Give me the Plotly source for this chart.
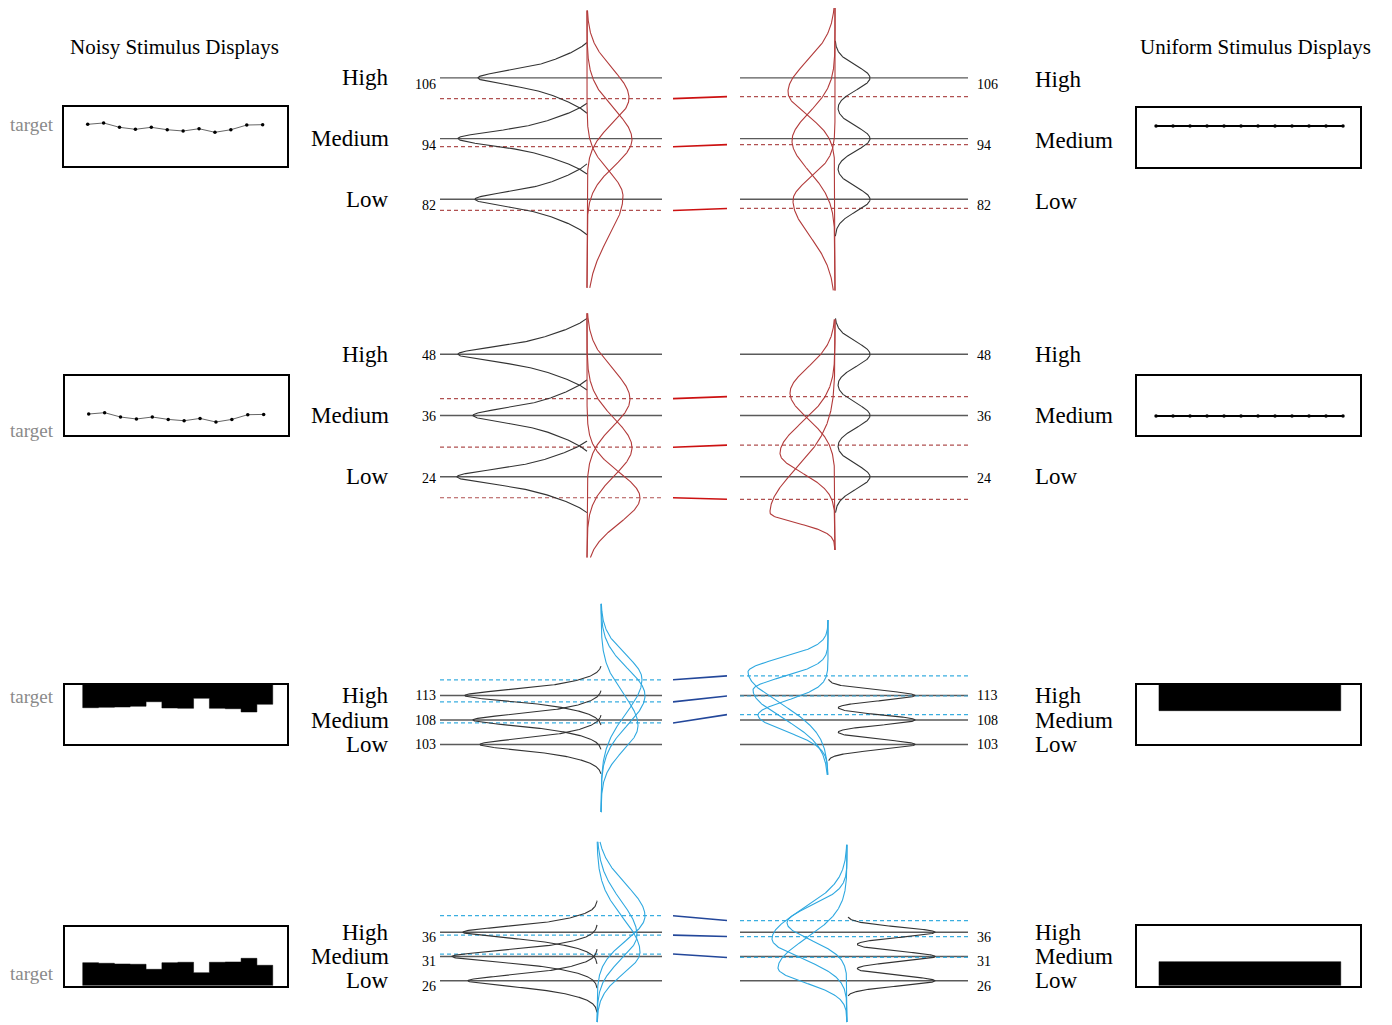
import numpy as np
import plotly.graph_objects as go

W, H = 1392, 1025
OFF = 8  # page body margin compensation
FONT = "Liberation Serif, Times New Roman, serif"

# ---------------- data ----------------
level_names = ["High", "Medium", "Low"]
row_levels = [[106, 94, 82], [48, 36, 24], [113, 108, 103], [36, 31, 26]]

# mean responses (dashed lines) for noisy (left) and uniform (right) displays
noisy_means = [[101.9, 92.4, 79.8], [39.3, 29.8, 19.9], [116.2, 111.7, 107.4], [39.4, 35.4, 31.5]]
uniform_means = [[102.3, 92.8, 80.2], [39.7, 30.2, 19.6], [117.0, 112.9, 109.1], [38.4, 35.1, 30.8]]

# gray stimulus distributions
noisy_stim_peak = [[109, 129, 112], [129, 114, 130], [136, 128, 121], [134, 145, 129]]
noisy_stim_narrow_sd = [1.2, 1.2, 0.9, 0.9]
noisy_stim_wide_sd = [3.5, 3.5, 2.0, 2.0]
noisy_stim_span = [7.0, 7.0, 6.0, 6.5]
uniform_stim_peak = [35, 35, 87, 88]
uniform_stim_sd = [2.4, 2.4, 1.05, 1.05]
uniform_stim_span = [7.3, 7.0, 3.3, 3.1]

# response distributions: (mode, sd above, sd below, peak height)
noisy_resp = [
    [(102.0, 5.8, 5.0, 42), (93.8, 6.0, 5.2, 45), (82.6, 5.0, 8.0, 36)],
    [(39.2, 5.8, 5.3, 43), (29.7, 5.7, 5.5, 45), (19.9, 5.0, 5.0, 53)],
    [(116.3, 5.0, 7.0, 41), (113.0, 5.5, 6.0, 44), (106.8, 6.5, 5.0, 37)],
    [(39.3, 6.5, 5.0, 48), (35.4, 7.0, 5.0, 40), (31.9, 7.0, 4.5, 43)],
]
uniform_resp = [
    [(103.2, 6.0, 4.5, 47), (93.6, 5.5, 6.0, 43), (81.8, 4.3, 7.0, 42)],
    [(40.4, 5.0, 5.0, 45), (28.6, 6.0, 3.8, 55), (17.0, 8.5, 2.0, 65)],
    [(117.8, 2.8, 6.3, 80), (114.1, 2.7, 5.7, 75), (109.0, 2.9, 3.3, 70)],
    [(37.9, 3.5, 3.5, 60), (34.6, 6.0, 4.0, 75), (28.6, 6.0, 3.0, 69)],
]
noisy_resp_range = [(64.5, 119.3), (8.2, 56.0), (89.2, 131.7), (17.5, 54.6)]
uniform_resp_range = [(64.0, 119.8), (9.7, 54.8), (96.8, 128.4), (17.5, 54.0)]

# stimulus displays (box units 0..100, 12 elements)
noisy_line_1 = [71.0, 73.3, 65.9, 62.5, 65.9, 61.8, 59.6, 63.5, 57.4, 61.8, 69.8, 70.4]
noisy_line_2 = [35.6, 37.8, 30.5, 27.1, 30.5, 26.4, 24.2, 28.1, 22.0, 26.4, 34.4, 34.9]
uniform_line_1 = [69.5] * 12
uniform_line_2 = [32.2] * 12
noisy_bar_3_bottom = [61.7, 62.4, 62.9, 64.1, 71.8, 61.2, 60.7, 77.6, 60.7, 60.0, 54.5, 67.5]
noisy_bar_4_top = [39.0, 38.0, 36.8, 36.3, 27.8, 39.0, 39.7, 22.0, 39.7, 40.2, 46.4, 34.6]
uniform_bar_3_bottom = [56.7] * 12
uniform_bar_4_top = [40.2] * 12
element_index = list(range(12))

# ---------------- layout geometry (page pixels) ----------------
row_ref = [(94, 138.6, 5.06), (36, 415.5, 5.11), (108, 720.0, 4.9), (31, 956.5, 4.86)]
row_px = [(5, 295), (305, 562), (600, 818), (838, 1025)]
row_tick_shift = [6, 1, 0, 5]
left_x = (440, 662)
right_x = (740, 968)
conn_x = (673, 727)
left_zero = [587, 587, 601, 597]
right_zero = [835, 835, 828, 847]
stim_left_box = [(64, 287, 107.3, 166), (65, 288, 376, 435), (65, 287.3, 685, 744.3), (65, 287.3, 926.7, 985.7)]
stim_right_box = [(1137, 1360, 108, 167), (1137, 1360, 376, 435), (1136.7, 1360, 685, 744.3), (1136.7, 1360, 926, 985.7)]
target_y = [125, 431, 696, 973]

RED, RED_DASH, RED_CONN = "#b23a3a", "#b05050", "#cc1111"
BLUE, BLUE_DASH, BLUE_CONN = "#2ea8e0", "#3aaee0", "#23479a"
GRAY_LINE, GRAY_CURVE = "#5a5a5a", "#333333"

fig = go.Figure()
layout_axes = {}
counter = [0]


def px_x(x):
    return (x - OFF) / W


def px_y(y):
    return 1 - (y - OFF) / H


def dom_x(x0, x1):
    return [px_x(x0), px_x(x1)]


def dom_y(top, bottom):
    return [max(0.0, px_y(bottom)), min(1.0, px_y(top))]


def new_axes(xd, yd, xr, yr, box=False, yticks=None, side="left", standoff=3, shift=0):
    counter[0] += 1
    n = counter[0]
    sfx = "" if n == 1 else str(n)
    xa = dict(domain=xd, range=xr, showgrid=False, zeroline=False, showticklabels=False,
              ticks="", fixedrange=True, anchor="y" + sfx)
    ya = dict(domain=yd, range=yr, showgrid=False, zeroline=False, showticklabels=False,
              ticks="", fixedrange=True, anchor="x" + sfx)
    if box:
        for a in (xa, ya):
            a.update(showline=True, mirror=True, linecolor="black", linewidth=1.6)
    else:
        xa.update(showline=False)
        ya.update(showline=False)
    if yticks is not None:
        ya.update(showticklabels=True, tickvals=yticks, ticktext=[str(v) for v in yticks],
                  side=side, tickfont=dict(family=FONT, size=14, color="black"),
                  ticklabelstandoff=standoff, ticklabelshift=shift)
    layout_axes["xaxis" + sfx] = xa
    layout_axes["yaxis" + sfx] = ya
    return "x" + sfx, "y" + sfx


def split_normal(v, mode, su, sd):
    s = np.where(v >= mode, su, sd)
    return np.exp(-0.5 * ((v - mode) / s) ** 2)


def peaked(v, c, sdn, sdw, span, w=0.4):
    d = w * np.exp(-0.5 * ((v - c) / sdn) ** 2) + (1 - w) * np.exp(-0.5 * ((v - c) / sdw) ** 2)
    e = w * np.exp(-0.5 * (span / sdn) ** 2) + (1 - w) * np.exp(-0.5 * (span / sdw) ** 2)
    return np.clip((d - e) / (1 - e), 0, None)


def line(xa, ya, xs, ys, color, width=1.2, dash=None):
    fig.add_trace(go.Scatter(x=xs, y=ys, mode="lines", xaxis=xa, yaxis=ya,
                             line=dict(color=color, width=width, dash=dash),
                             hoverinfo="skip", showlegend=False))


def step_block(xa, ya, edge_vals, anchor_val):
    """Filled step outline of adjacent bars between edge_vals and anchor_val (no seams)."""
    xs = [element_index[0] - 0.5]
    ys = [anchor_val]
    for i, e in zip(element_index, edge_vals):
        xs += [i - 0.5, i + 0.5]
        ys += [e, e]
    xs.append(element_index[-1] + 0.5)
    ys.append(anchor_val)
    fig.add_trace(go.Scatter(x=xs, y=ys, mode="lines", fill="toself", fillcolor="black",
                             line=dict(color="black", width=0.5), xaxis=xa, yaxis=ya,
                             hoverinfo="skip", showlegend=False))


annotations = []
row_yaxes = []

for r in range(4):
    V0, P0, k = row_ref[r]
    top, bot = row_px[r]
    top_c, bot_c = max(top, OFF), min(bot, H + OFF)
    yr = [V0 - (bot_c - P0) / k, V0 + (P0 - top_c) / k]
    yd = dom_y(top_c, bot_c)
    levels = row_levels[r]
    resp_col = RED if r < 2 else BLUE
    dash_col = RED_DASH if r < 2 else BLUE_DASH
    conn_col = RED_CONN if r < 2 else BLUE_CONN

    # ---- left (noisy) density panel ----
    lxr = [left_x[0] - left_zero[r], left_x[1] - left_zero[r]]
    xa, ya = new_axes(dom_x(*left_x), yd, lxr, yr, yticks=levels, side="left", standoff=3,
                      shift=row_tick_shift[r])
    row_yaxes.append(ya)
    for lv in levels:
        line(xa, ya, lxr, [lv, lv], GRAY_LINE, 1.4)
    for m in noisy_means[r]:
        line(xa, ya, lxr, [m, m], dash_col, 1.2, "4px,3px")
    for i, lv in enumerate(levels):
        sp = noisy_stim_span[r]
        v = np.linspace(lv - sp, lv + sp, 300)
        d = peaked(v, lv, noisy_stim_narrow_sd[r], noisy_stim_wide_sd[r], sp)
        line(xa, ya, -noisy_stim_peak[r][i] * d, v, GRAY_CURVE, 1.1)
    lo, hi = noisy_resp_range[r]
    v = np.linspace(lo, hi, 400)
    for (mode, su, sd, pk) in noisy_resp[r]:
        line(xa, ya, pk * split_normal(v, mode, su, sd), v, resp_col, 1.1)

    # ---- connectors ----
    cxa, cya = new_axes(dom_x(*conn_x), yd, [0, 1], yr)
    for ml, mr in zip(noisy_means[r], uniform_means[r]):
        line(cxa, cya, [0, 1], [ml, mr], conn_col, 1.6)

    # ---- right (uniform) density panel ----
    rxr = [right_x[0] - right_zero[r], right_x[1] - right_zero[r]]
    xa, ya = new_axes(dom_x(*right_x), yd, rxr, yr, yticks=levels, side="right", standoff=8,
                      shift=row_tick_shift[r])
    for lv in levels:
        line(xa, ya, rxr, [lv, lv], GRAY_LINE, 1.4)
    for m in uniform_means[r]:
        line(xa, ya, rxr, [m, m], dash_col, 1.2, "4px,3px")
    sp = uniform_stim_span[r]
    v = np.linspace(min(levels) - sp, max(levels) + sp, 500)
    d = sum(np.exp(-0.5 * ((v - lv) / uniform_stim_sd[r]) ** 2) for lv in levels)
    line(xa, ya, uniform_stim_peak[r] * d, v, GRAY_CURVE, 1.1)
    lo, hi = uniform_resp_range[r]
    v = np.linspace(lo, hi, 400)
    for (mode, su, sd, pk) in uniform_resp[r]:
        line(xa, ya, -pk * split_normal(v, mode, su, sd), v, resp_col, 1.1)

    # ---- level labels ----
    for i, lv in enumerate(levels):
        annotations.append(dict(text=level_names[i], x=px_x(391), xref="paper", y=lv, yref=row_yaxes[r],
                                xanchor="right", yanchor="middle", showarrow=False,
                                font=dict(family=FONT, size=23, color="black")))
        annotations.append(dict(text=level_names[i], x=px_x(1033), xref="paper", y=lv, yref=row_yaxes[r],
                                xanchor="left", yanchor="middle", showarrow=False, yshift=-2 if r == 0 else 0,
                                font=dict(family=FONT, size=23, color="black")))

    # ---- stimulus displays ----
    bx0, bx1, by0, by1 = stim_left_box[r]
    xr_s = [-1.49, 12.53] if r < 2 else [-1.62, 12.42]
    sxa, sya = new_axes(dom_x(bx0, bx1), dom_y(by0, by1), xr_s, [0, 100], box=True)
    if r < 2:
        vals = noisy_line_1 if r == 0 else noisy_line_2
        fig.add_trace(go.Scatter(x=element_index, y=vals, mode="lines+markers", xaxis=sxa, yaxis=sya,
                                 line=dict(color="#666666", width=1), marker=dict(color="black", size=3.5),
                                 hoverinfo="skip", showlegend=False))
    elif r == 2:
        step_block(sxa, sya, noisy_bar_3_bottom, 100)
    else:
        step_block(sxa, sya, noisy_bar_4_top, 0)

    bx0, bx1, by0, by1 = stim_right_box[r]
    xr_s = [-1.12, 12.0] if r < 2 else [-1.97, 12.77]
    sxa, sya = new_axes(dom_x(bx0, bx1), dom_y(by0, by1), xr_s, [0, 100], box=True)
    if r < 2:
        vals = uniform_line_1 if r == 0 else uniform_line_2
        fig.add_trace(go.Scatter(x=element_index, y=vals, mode="lines+markers", xaxis=sxa, yaxis=sya,
                                 line=dict(color="black", width=2), marker=dict(color="black", size=3.5),
                                 hoverinfo="skip", showlegend=False))
    elif r == 2:
        step_block(sxa, sya, uniform_bar_3_bottom, 100)
    else:
        step_block(sxa, sya, uniform_bar_4_top, 0)

    annotations.append(dict(text="target", x=px_x(56), xref="paper", y=px_y(target_y[r]), yref="paper",
                            xanchor="right", yanchor="middle", showarrow=False,
                            font=dict(family=FONT, size=19, color="#8a8a8a")))

annotations.append(dict(text="Noisy Stimulus Displays", x=px_x(174), y=px_y(47), xref="paper", yref="paper",
                        xanchor="center", yanchor="middle", showarrow=False,
                        font=dict(family=FONT, size=21, color="black")))
annotations.append(dict(text="Uniform Stimulus Displays", x=px_x(1255), y=px_y(47), xref="paper", yref="paper",
                        xanchor="center", yanchor="middle", showarrow=False,
                        font=dict(family=FONT, size=21, color="black")))

fig.update_layout(width=W, height=H, margin=dict(l=0, r=0, t=0, b=0),
                  paper_bgcolor="white", plot_bgcolor="white", showlegend=False,
                  annotations=annotations, **layout_axes)

fig.write_html("out.html")
